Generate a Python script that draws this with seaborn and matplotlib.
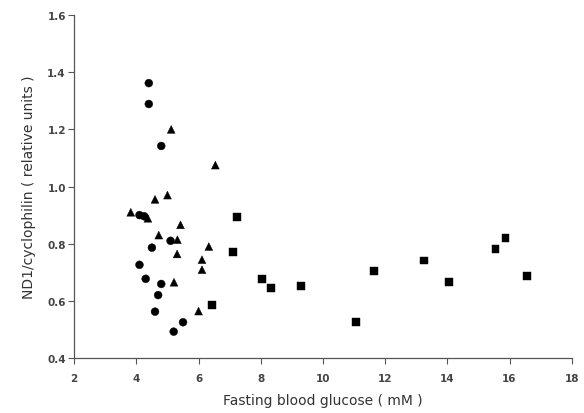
import matplotlib
matplotlib.use("Agg")
import matplotlib.pyplot as plt
import seaborn as sns
import pandas as pd

# circles
circle_x = [4.4, 4.4, 4.8, 4.1, 4.25, 5.1, 4.5, 4.1, 4.3, 4.8, 4.7, 4.6, 5.5, 5.2]
circle_y = [1.362, 1.289, 1.142, 0.90, 0.896, 0.81, 0.786, 0.726, 0.677, 0.659, 0.62, 0.562, 0.525, 0.492]

# triangles
tri_x = [3.82, 4.37, 4.6, 5.0, 5.12, 6.54, 5.42, 4.72, 5.32, 5.31, 5.21, 6.33, 6.11, 6.11, 6.0]
tri_y = [0.91, 0.889, 0.955, 0.97, 1.20, 1.075, 0.866, 0.83, 0.814, 0.764, 0.665, 0.79, 0.744, 0.709, 0.564]

# squares
sq_x = [6.43, 7.23, 7.11, 8.03, 8.32, 9.3, 11.05, 11.65, 13.25, 14.05, 15.55, 15.87, 16.55]
sq_y = [0.585, 0.893, 0.772, 0.677, 0.646, 0.653, 0.525, 0.703, 0.741, 0.667, 0.78, 0.82, 0.686]

df = pd.DataFrame({
    "x": circle_x + tri_x + sq_x,
    "y": circle_y + tri_y + sq_y,
    "group": ["circle"] * len(circle_x) + ["tri"] * len(tri_x) + ["sq"] * len(sq_x),
})

sns.set_style("ticks")
plt.rcParams["font.family"] = ["DejaVu Sans"]

fig = plt.figure(figsize=(5.84, 4.14), dpi=100)
ax = fig.add_axes([0.127, 0.133, 0.852, 0.828])

sns.scatterplot(data=df, x="x", y="y", style="group",
                markers={"circle": "o", "tri": "^", "sq": "s"},
                color="black", edgecolor="black", s=32, linewidth=0.3,
                legend=False, ax=ax)

ax.set_xlim(2, 18)
ax.set_ylim(0.4, 1.6)
ax.set_xticks(range(2, 19, 2))
ax.set_yticks([0.4, 0.6, 0.8, 1.0, 1.2, 1.4, 1.6])
ax.set_yticklabels(["0.4", "0.6", "0.8", "1.0", "1.2", "1.4", "1.6"])

text_col = "#333333"
ax.tick_params(axis="both", labelsize=7.5, colors="#555555", labelcolor="#444444",
               length=4, width=0.8, direction="out")
ax.tick_params(axis="x", pad=7)
ax.tick_params(axis="y", pad=2)
for lab in ax.get_xticklabels() + ax.get_yticklabels():
    lab.set_fontweight("bold")
for side in ["left", "bottom"]:
    ax.spines[side].set_color("#555555")
    ax.spines[side].set_linewidth(0.9)
sns.despine(ax=ax)

ax.set_xlabel("Fasting blood glucose ( mM )", fontsize=10, color=text_col, labelpad=7)
ax.set_ylabel("ND1/cyclophilin ( relative units )", fontsize=10, color=text_col, labelpad=8)

fig.savefig("out.png", dpi=100)
